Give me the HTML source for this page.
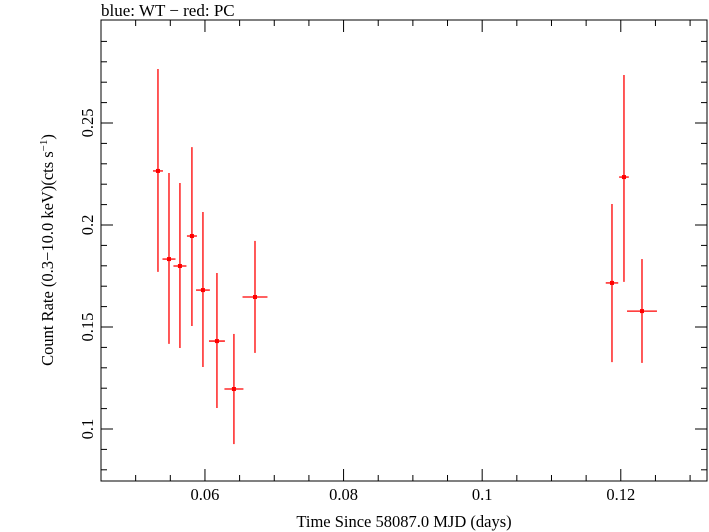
<!DOCTYPE html>
<html><head><meta charset="utf-8"><style>
body{margin:0;background:#fff;}
svg{display:block;font-family:"Liberation Serif",serif;}
</style></head><body>
<svg id="c" width="709" height="532" xmlns="http://www.w3.org/2000/svg">
<text x="101" y="16" font-size="17">blue: WT − red: PC</text>
<rect x="101" y="20" width="606" height="461" fill="none" stroke="#000" stroke-width="1"/>
<g id="axes"></g>
<g id="marks"></g>
<text x="404" y="527" font-size="16.5" text-anchor="middle">Time Since 58087.0 MJD (days)</text>
<text transform="translate(53,250) rotate(-90)" font-size="16.5" text-anchor="middle">Count Rate (0.3−10.0 keV)(cts s<tspan font-size="11" dy="-6">−1</tspan><tspan dy="6">)</tspan></text>
</svg>
<script>
const xs=[0.05322,0.05481,0.05639,0.05812,0.05971,0.06173,0.06418,0.06722,0.11873,0.12046,0.12306];
const xerr=[0.00072,0.00094,0.00094,0.00072,0.001,0.00115,0.00137,0.0018,0.0009,0.0007,0.00216];
const ys=[0.2265,0.1833,0.1799,0.1946,0.1681,0.1431,0.1196,0.1647,0.1716,0.2235,0.1578];
const yhi=[0.2765,0.2255,0.2206,0.2382,0.2064,0.1765,0.1466,0.1922,0.2103,0.2735,0.1833];
const ylo=[0.177,0.1417,0.1397,0.1505,0.1304,0.1103,0.0926,0.1373,0.1328,0.1721,0.1324];
const xTicks=[0.06,0.08,0.1,0.12];
const xTickLabels=["0.06","0.08","0.1","0.12"];
const yTicks=[0.1,0.15,0.2,0.25];
const yTickLabels=["0.1","0.15","0.2","0.25"];
const X0=0.045,X1=0.13244,Y0=0.07451,Y1=0.30049;
const L=101,R=707,T=20,B=481;
const sx=v=>L+(v-X0)/(X1-X0)*(R-L);
const sy=v=>B-(v-Y0)/(Y1-Y0)*(B-T);
const NS="http://www.w3.org/2000/svg";
function mk(tag,at,parent){const e=document.createElementNS(NS,tag);for(const k in at)e.setAttribute(k,at[k]);parent.appendChild(e);return e;}
const ax=document.getElementById('axes'),mg=document.getElementById('marks');
for(let v=0.045;v<=0.1325;v+=0.005){const x=sx(v);const maj=xTicks.some(t=>Math.abs(t-v)<1e-6);const len=maj?12:6;
 let l=mk('line',{x1:x,x2:x,y1:B,y2:B-len,stroke:'#000'},ax);
 l=mk('line',{x1:x,x2:x,y1:T,y2:T+len,stroke:'#000'},ax);}
for(let v=0.08;v<=0.3;v+=0.01){const y=sy(v);const maj=yTicks.some(t=>Math.abs(t-v)<1e-6);const len=maj?12:6;
 let l=mk('line',{x1:L,x2:L+len,y1:y,y2:y,stroke:'#000'},ax);
 l=mk('line',{x1:R,x2:R-len,y1:y,y2:y,stroke:'#000'},ax);}
xTicks.forEach((t,i)=>{const e=mk('text',{x:sx(t),y:B+19,'font-size':16.5,'text-anchor':'middle'},ax);e.textContent=xTickLabels[i];
 });
yTicks.forEach((t,i)=>{const e=mk('text',{transform:`translate(${L-8},${sy(t)}) rotate(-90)`,'font-size':16.5,'text-anchor':'middle'},ax);e.textContent=yTickLabels[i];
 });
xs.forEach((x,i)=>{const g=mk('g',{},mg);
 mk('line',{x1:sx(x),x2:sx(x),y1:sy(yhi[i]),y2:sy(ylo[i]),stroke:'#f00','stroke-width':1.3},g);
 mk('line',{x1:sx(x-xerr[i]),x2:sx(x+xerr[i]),y1:sy(ys[i]),y2:sy(ys[i]),stroke:'#f00','stroke-width':1.3},g);
 mk('rect',{x:sx(x)-2,y:sy(ys[i])-2,width:4,height:4,fill:'#f00'},g);});
</script>
</body></html>
